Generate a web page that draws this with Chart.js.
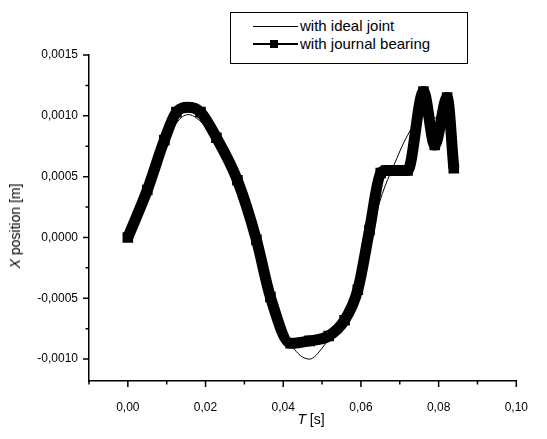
<!DOCTYPE html>
<html>
<head>
<meta charset="utf-8">
<script src="https://cdn.jsdelivr.net/npm/chart.js@4"></script>
<style>
  body { margin: 0; background: #fff; }
  #wrap { position: relative; width: 547px; height: 439px; font-family: Arial, "Liberation Sans", sans-serif; color: #000; }
  #chart { position: absolute; left: 0; top: 0; }
  .legend { position: absolute; left: 230px; top: 12px; width: 236px; height: 50px; border: 1px solid #000; background: #fff; }
  .row { position: absolute; left: 0; height: 16px; font-size: 15px; line-height: 16px; }
  .row .ln { position: absolute; left: 22px; width: 45px; top: 8px; border-top: 1px solid #000; }
  .row .ln.thick { border-top-width: 2px; top: 7px; }
  .row .sq { position: absolute; left: 39px; top: 4px; width: 8px; height: 8px; background: #000; }
  .row .txt { position: absolute; left: 69px; white-space: nowrap; }
  .xtitle { position: absolute; left: 311px; top: 419px; transform: translate(-50%, -50%); font-size: 14px; white-space: nowrap; }
  .ytitle { position: absolute; left: 15px; top: 226px; transform: translate(-50%, -50%) rotate(-90deg); font-size: 14px; white-space: nowrap; }
</style>
</head>
<body>
<div id="wrap">
  <canvas id="chart" width="547" height="439"></canvas>
  <div class="legend">
    <div class="row" style="top:5px"><span class="ln"></span><span class="txt">with ideal joint</span></div>
    <div class="row" style="top:23px"><span class="ln thick"></span><span class="sq"></span><span class="txt">with journal bearing</span></div>
  </div>
  <div class="xtitle"><i>T</i> [s]</div>
  <div class="ytitle"><i>X</i> position [m]</div>
</div>
<script>
// ideal joint (thin line)
const tIdeal = [0, 0.005, 0.010, 0.0125, 0.0155, 0.0185, 0.023, 0.028, 0.033, 0.037, 0.0415, 0.0444,
                0.0468, 0.050, 0.0541, 0.0583, 0.062, 0.0655, 0.0683, 0.072, 0.0758, 0.0798, 0.0828, 0.0840];
const xIdeal = [0, 0.00039, 0.00078, 0.00094, 0.00101, 0.00096, 0.00077, 0.00044, -0.00001, -0.00049, -0.00085, -0.00097,
                -0.00100, -0.00091, -0.00071, -0.00049, -0.00003, 0.00036, 0.00058, 0.00084, 0.00100, 0.00098, 0.00094, 0.00060];

// journal bearing (thick line with squares)
const tBearing = [0, 0.0050, 0.0094, 0.0125, 0.0155, 0.0187, 0.0228, 0.0282, 0.0331, 0.0367, 0.0419, 0.0468,
                  0.0517, 0.0558, 0.0592, 0.0622, 0.0651, 0.0665, 0.0720, 0.0761, 0.0790, 0.0822, 0.0839];
const xBearing = [0, 0.00039, 0.00080, 0.00103, 0.00107, 0.00103, 0.00082, 0.00047, -0.00002, -0.00049, -0.00087, -0.00085,
                  -0.00081, -0.00068, -0.00043, 0.00006, 0.00053, 0.00055, 0.00055, 0.00120, 0.00076, 0.00115, 0.00057];

// axis ticks
const xTicks = [0, 0.02, 0.04, 0.06, 0.08, 0.10];
const xMinor = [-0.01, 0.01, 0.03, 0.05, 0.07, 0.09];
const yTicks = [-0.0010, -0.0005, 0, 0.0005, 0.0010, 0.0015];
const yMinor = [-0.00075, -0.00025, 0.00025, 0.00075, 0.00125];

const toPts = (xs, ys) => xs.map((v, i) => ({ x: v, y: ys[i] }));

// draw outward major/minor tick marks
const tickMarks = {
    id: 'tickMarks',
    afterDraw(chart) {
        const { ctx, chartArea: a, scales: { x, y } } = chart;
        ctx.save();
        ctx.strokeStyle = '#000';
        ctx.lineWidth = 1.5;
        ctx.beginPath();
        xTicks.forEach(v => { const p = x.getPixelForValue(v); ctx.moveTo(p, a.bottom); ctx.lineTo(p, a.bottom + 6); });
        xMinor.forEach(v => { const p = x.getPixelForValue(v); ctx.moveTo(p, a.bottom); ctx.lineTo(p, a.bottom + 3.5); });
        yTicks.forEach(v => { const p = y.getPixelForValue(v); ctx.moveTo(a.left, p); ctx.lineTo(a.left - 6, p); });
        yMinor.forEach(v => { const p = y.getPixelForValue(v); ctx.moveTo(a.left, p); ctx.lineTo(a.left - 3.5, p); });
        ctx.stroke();
        ctx.restore();
    }
};

Chart.defaults.font.family = 'Arial, "Liberation Sans", sans-serif';
Chart.defaults.color = '#000';

new Chart(document.getElementById('chart').getContext('2d'), {
    type: 'line',
    data: {
        datasets: [
            {
                label: 'with ideal joint',
                data: toPts(tIdeal, xIdeal),
                borderColor: '#000',
                borderWidth: 1,
                pointRadius: 0,
                cubicInterpolationMode: 'monotone',
                fill: false
            },
            {
                label: 'with journal bearing',
                data: toPts(tBearing, xBearing),
                borderColor: '#000',
                borderWidth: 11,
                pointStyle: 'rect',
                pointRadius: 7.5,
                pointBorderWidth: 0,
                pointBackgroundColor: '#000',
                cubicInterpolationMode: 'monotone',
                fill: false
            }
        ]
    },
    options: {
        responsive: false,
        animation: false,
        layout: { padding: { top: 55, right: 14, left: 0, bottom: 0 } },
        plugins: { legend: { display: false }, tooltip: { enabled: false } },
        scales: {
            x: {
                type: 'linear',
                min: -0.01,
                max: 0.10,
                grid: { display: false, drawTicks: false },
                border: { display: true, color: '#000', width: 1.5 },
                afterBuildTicks: s => { s.ticks = xTicks.map(v => ({ value: v })); },
                afterFit: s => { s.height = 58; },
                ticks: {
                    padding: 19,
                    autoSkip: false,
                    maxRotation: 0,
                    font: { size: 12 },
                    callback: v => v.toFixed(2).replace('.', ',')
                }
            },
            y: {
                min: -0.00118,
                max: 0.0015,
                grid: { display: false, drawTicks: false },
                border: { display: true, color: '#000', width: 1.5 },
                afterBuildTicks: s => { s.ticks = yTicks.map(v => ({ value: v })); },
                afterFit: s => { s.width = 89; },
                ticks: {
                    padding: 11,
                    autoSkip: false,
                    font: { size: 12 },
                    callback: v => (Math.abs(v) < 1e-12 ? 0 : v).toFixed(4).replace('.', ',')
                }
            }
        }
    },
    plugins: [tickMarks]
});
</script>
</body>
</html>
